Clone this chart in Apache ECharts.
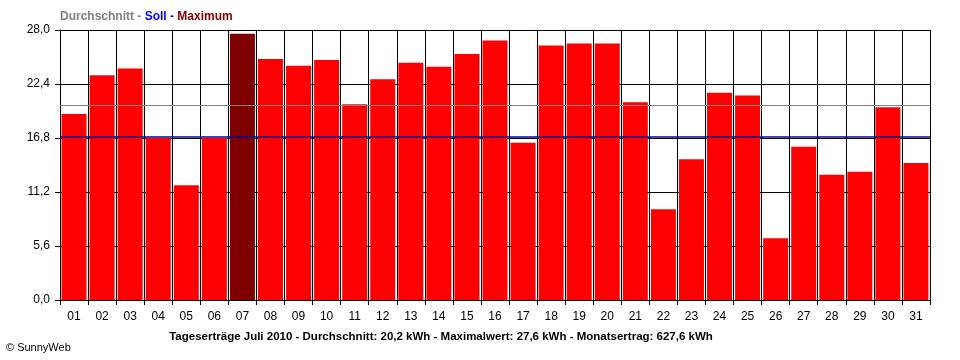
<!DOCTYPE html>
<html>
<head>
<meta charset="utf-8">
<script src="https://cdn.jsdelivr.net/npm/echarts@6/dist/echarts.min.js"></script>
<style>html,body{margin:0;padding:0;background:#fff}#c{width:960px;height:360px}</style>
</head>
<body>
<div id="c"></div>
<script>
const days = ['01','02','03','04','05','06','07','08','09','10','11','12','13','14','15','16','17','18','19','20','21','22','23','24','25','26','27','28','29','30','31'];
const yields = [19.3,23.3,24.0,16.8,11.9,16.8,27.6,25.0,24.3,24.9,20.3,22.9,24.6,24.2,25.5,26.9,16.3,26.4,26.6,26.6,20.5,9.4,14.6,21.5,21.2,6.4,15.9,13.0,13.3,20.0,14.2];
const average = 20.2;
const target = 16.9;
const footer = 'Tageserträge Juli 2010 - Durchschnitt: 20,2 kWh - Maximalwert: 27,6 kWh - Monatsertrag: 627,6 kWh';

const font = 'Liberation Sans, Arial, sans-serif';
const chart = echarts.init(document.getElementById('c'), null, {renderer: 'canvas'});
const maxIdx = yields.indexOf(Math.max.apply(null, yields));

chart.setOption({
  animation: false,
  backgroundColor: '#fff',
  grid: {left: 60, right: 30, top: 30, bottom: 60},
  xAxis: {
    type: 'category',
    data: days,
    boundaryGap: true,
    axisLine: {show: true, lineStyle: {color: '#000', width: 1}},
    axisTick: {show: true, length: 5, lineStyle: {color: '#000'}},
    axisLabel: {color: '#000', fontFamily: font, fontSize: 12, margin: 11},
    splitLine: {show: true, lineStyle: {color: '#000', width: 1}}
  },
  yAxis: {
    type: 'value',
    min: 0, max: 28, interval: 5.6,
    axisLine: {show: true, lineStyle: {color: '#000', width: 1}},
    axisTick: {show: true, length: 5, lineStyle: {color: '#000'}},
    axisLabel: {color: '#000', fontFamily: font, fontSize: 12, margin: 10,
      formatter: v => v.toFixed(1).replace('.', ',')},
    splitLine: {show: true, lineStyle: {color: '#000', width: 1}}
  },
  series: [{
    type: 'bar',
    data: yields.map((v, i) => ({value: v, itemStyle: {color: i === maxIdx ? '#800000' : '#ff0000'}})),
    barWidth: 25,
    markLine: {
      silent: true,
      symbol: 'none',
      label: {show: false},
      z: 10,
      data: [
        {yAxis: average, lineStyle: {color: '#808080', width: 1, type: 'solid'}},
        {yAxis: target, lineStyle: {color: '#0000a0', width: 1.5, type: 'solid'}}
      ]
    }
  }],
  graphic: [
    {type: 'text', left: 60, top: 11, style: {
      text: '{a|Durchschnitt -} {b|Soll -} {c|Maximum}',
      rich: {
        a: {fill: '#808080', font: 'bold 12px ' + font},
        b: {fill: '#0000ff', font: 'bold 12px ' + font},
        c: {fill: '#800000', font: 'bold 12px ' + font}
      }
    }},
    {type: 'text', x: 441, y: 331, style: {text: footer, fill: '#000', font: 'bold 11.5px ' + font, textAlign: 'center'}},
    {type: 'text', left: 6, top: 342, style: {text: '© SunnyWeb', fill: '#000', font: '11px ' + font}}
  ]
});
</script>
</body>
</html>
